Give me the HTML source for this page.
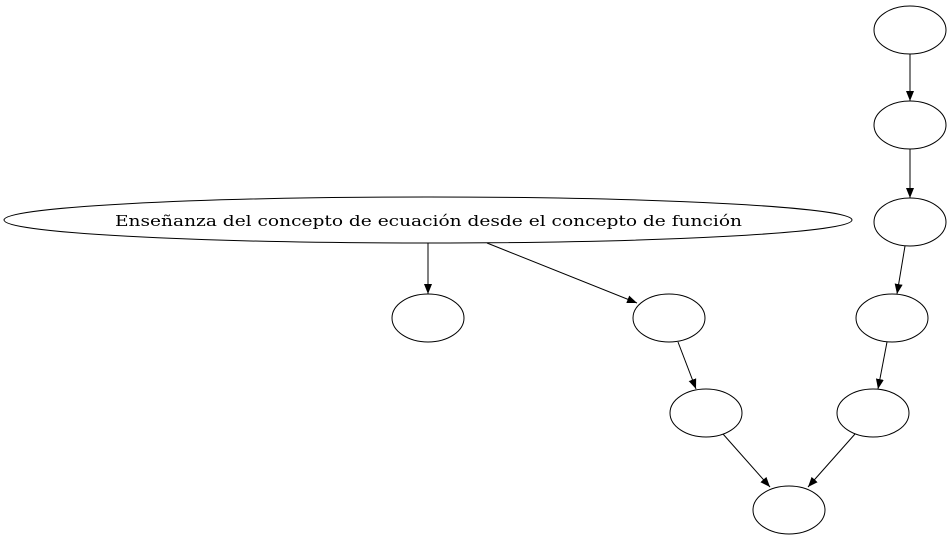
<!DOCTYPE html>
<html><head><meta charset="utf-8"><style>html,body{margin:0;padding:0;background:#fff;}svg{display:block;}</style></head>
<body>
<svg width="952" height="539" viewBox="0 0 952 539" xmlns="http://www.w3.org/2000/svg">
<defs><marker id="a" markerWidth="10" markerHeight="8" refX="10" refY="4" orient="auto" markerUnits="userSpaceOnUse"><path d="M0,0 L10,4 L0,8 z" fill="#000"/></marker></defs>
<g fill="none" stroke="#000" stroke-width="1">
<ellipse cx="910" cy="30" rx="36" ry="24"/>
<ellipse cx="910" cy="125" rx="36" ry="24"/>
<ellipse cx="910" cy="222" rx="36" ry="24"/>
<ellipse cx="892" cy="318" rx="36" ry="24"/>
<ellipse cx="873" cy="413" rx="36" ry="24"/>
<ellipse cx="789" cy="510" rx="36" ry="24"/>
<ellipse cx="706" cy="413" rx="36" ry="24"/>
<ellipse cx="669" cy="318" rx="36" ry="24"/>
<ellipse cx="428" cy="318" rx="36" ry="24"/>
<ellipse cx="428" cy="220" rx="424" ry="23"/>
<line x1="910" y1="54" x2="910" y2="101" marker-end="url(#a)"/>
<line x1="910" y1="149" x2="910" y2="198" marker-end="url(#a)"/>
<line x1="905" y1="246" x2="897" y2="294" marker-end="url(#a)"/>
<line x1="887" y1="342" x2="878" y2="389" marker-end="url(#a)"/>
<line x1="855" y1="434" x2="808" y2="487" marker-end="url(#a)"/>
<line x1="723" y1="434" x2="770" y2="487" marker-end="url(#a)"/>
<line x1="678" y1="342" x2="696" y2="389" marker-end="url(#a)"/>
<line x1="428" y1="243" x2="428" y2="294" marker-end="url(#a)"/>
<line x1="487" y1="243" x2="637" y2="303" marker-end="url(#a)"/>
</g>
<text x="115" y="226" textLength="627" lengthAdjust="spacingAndGlyphs" font-family="'DejaVu Serif', serif" font-size="15">Enseñanza del concepto de ecuación desde el concepto de función</text>
</svg>
</body></html>
